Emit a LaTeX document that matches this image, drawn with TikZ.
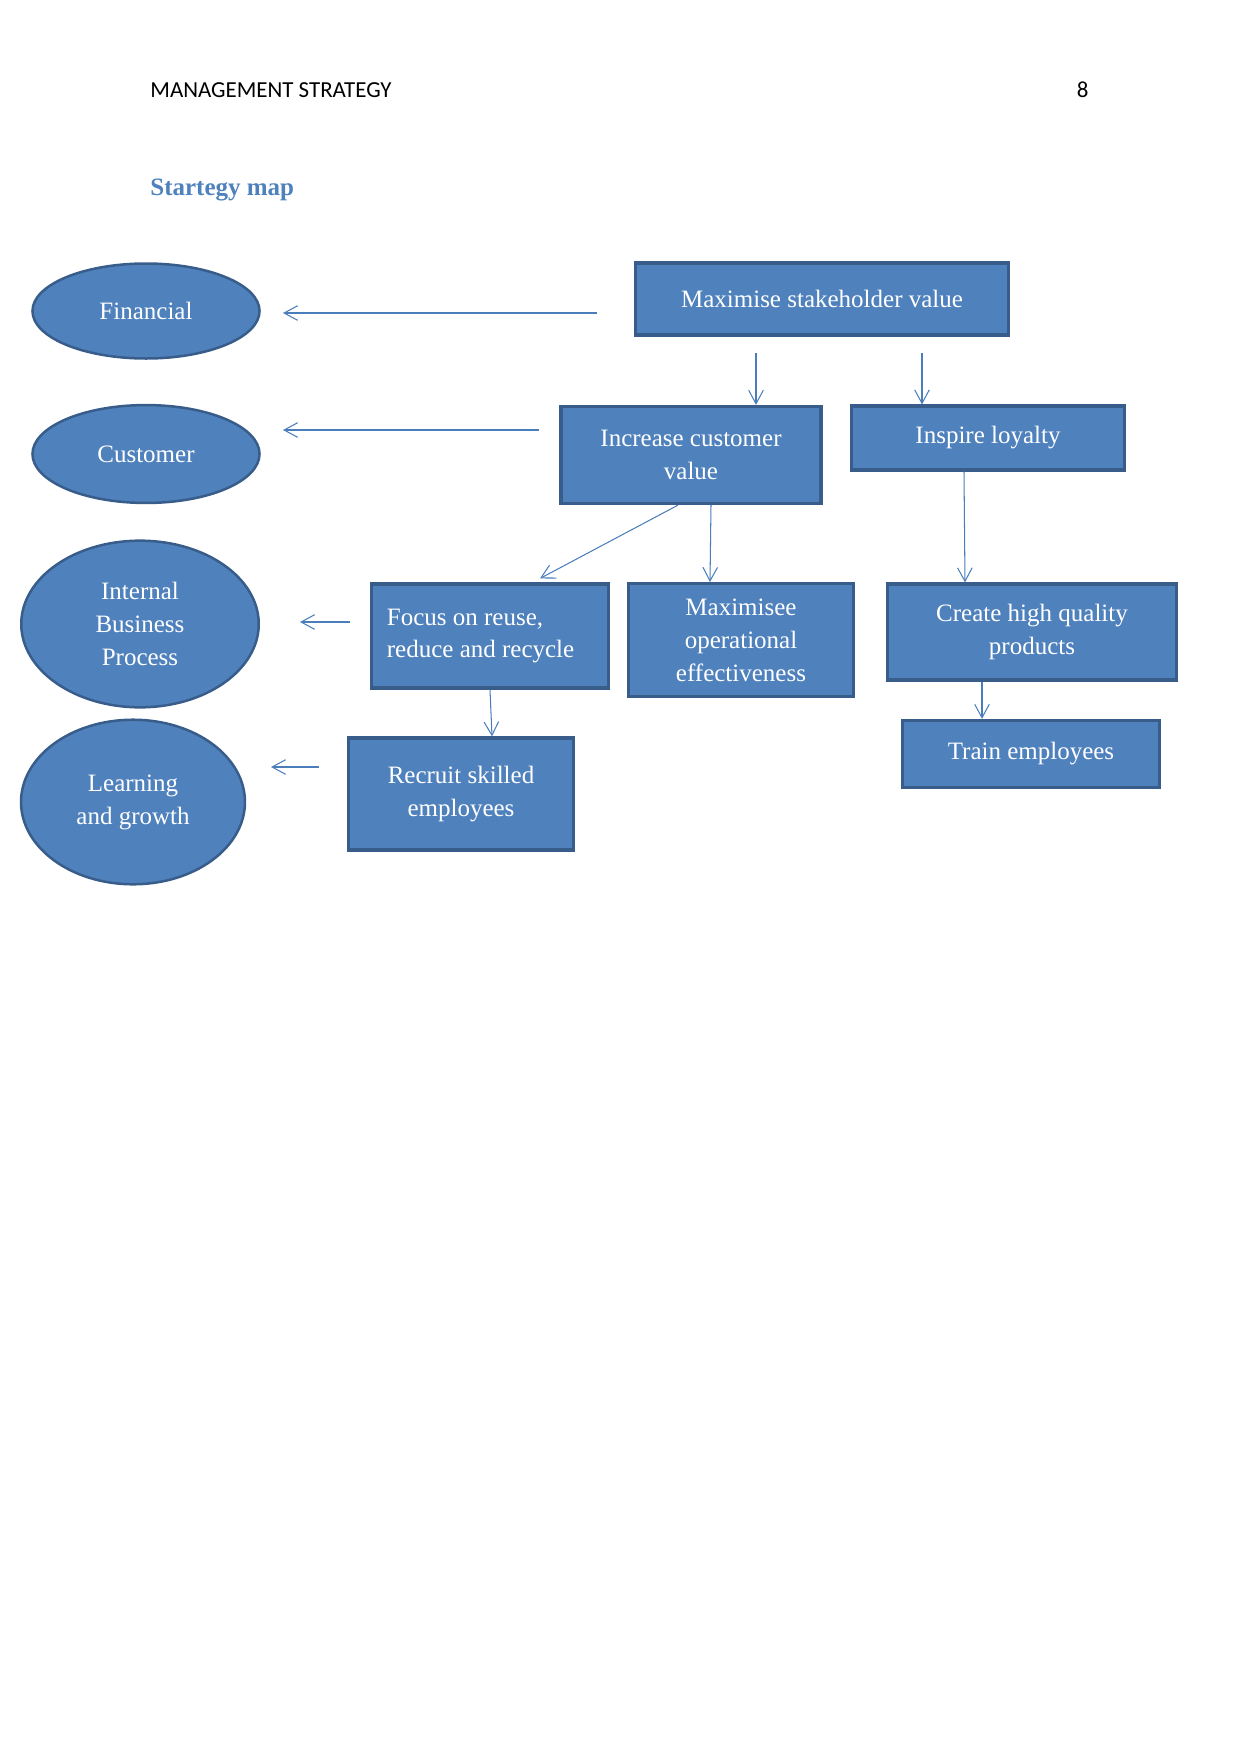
\documentclass[tikz,border=0pt]{standalone}
\usepackage{fontspec}
\setmainfont{Liberation Serif}
\newfontfamily\hdrfont{Carlito}
\usepackage{xcolor}
\definecolor{smblue}{RGB}{79,129,189}
\definecolor{smdark}{RGB}{56,93,138}
\definecolor{smarrow}{RGB}{74,126,187}
\usetikzlibrary{arrows.meta,positioning,shapes.geometric,calc}

\begin{document}
\begin{tikzpicture}[x=0.48pt, y=-0.48pt,
  every node/.style={font=\fontsize{12}{15.8}\selectfont},
  box/.style={draw=smdark, fill=smblue, line width=1.5pt, text=white, align=center},
  persp/.style={ellipse, draw=smdark, fill=smblue, line width=1.2pt, text=white, align=center, inner sep=0pt},
  flow/.style={-{Straight Barb[length=6.5pt, width=7pt]}, smarrow, line width=0.5pt}]
\useasboundingbox (0,0) rectangle (1241,1754);
% Page head
\node[anchor=base west, inner sep=0pt, font=\hdrfont\fontsize{11}{13}\selectfont] (head) at (150,97) {MANAGEMENT STRATEGY};
\node[anchor=base east, inner sep=0pt, font=\hdrfont\fontsize{11}{13}\selectfont] (page) at (1089,97) {8};
\node[anchor=base west, inner sep=0pt, text=smblue, font=\bfseries\fontsize{12}{14}\selectfont] (title) at (150,195) {Startegy map};
% Perspectives
\node[persp, minimum width=109pt, minimum height=45.6pt] (fin) at (146,311) {Financial};
\node[persp, minimum width=109pt, minimum height=47pt] (cus) at (146,454) {Customer};
\node[persp, minimum width=114pt, minimum height=80pt] (ibp) at (140,624) {Internal\\Business\\Process};
\node[persp, minimum width=107.5pt, minimum height=79pt] (lag) at (133,802) {Learning\\and growth};
% Objectives
\node[box, minimum width=179pt, minimum height=34.6pt] (msv) at (822,299) {Maximise stakeholder value};
\node[box, minimum width=124.8pt, minimum height=46.6pt] (icv) at (691,455) {Increase customer\\value};
\node[box, minimum width=131pt, minimum height=30.7pt] (loy) at (988,438) {Inspire loyalty};
\node[box, minimum height=49.9pt, text width=99pt, inner xsep=7.4pt, align=flush left] (frr) at (490,636) {Focus on reuse,\\reduce and recycle};
\node[box, minimum width=108pt, minimum height=54.2pt] (moe) at (741,640) {Maximisee\\operational\\effectiveness};
\node[box, minimum width=138.7pt, minimum height=46.1pt] (chq) at (1032,632) {Create high quality\\products};
\node[box, minimum width=108pt, minimum height=53.8pt] (rse) at (461,794) {Recruit skilled\\employees};
\node[box, minimum width=123.4pt, minimum height=32.2pt] (tre) at (1031,754) {Train employees};
% Arrows to perspectives
\coordinate (fin-t) at (597,313); \coordinate (fin-h) at (283,313);
\coordinate (cus-t) at (539,430); \coordinate (cus-h) at (283,430);
\coordinate (ibp-t) at (350,622); \coordinate (ibp-h) at (300,622);
\coordinate (lag-t) at (319,767); \coordinate (lag-h) at (271,767);
\foreach \a in {fin,cus,ibp,lag} {
  \draw[flow] (\a-t) -- (\a-h);
}
% Arrows between objectives
\coordinate (msv-a) at (756,353);
\coordinate (msv-b) at (922,353);
\draw[flow] (msv-a) -- (msv-a |- icv.north);
\draw[flow] (msv-b) -- (msv-b |- loy.north);
\draw[flow] ($(icv.south)+(-13,0)$) -- ($(frr.north)+(50,-4)$);
\draw[flow] ($(icv.south)+(20,0)$) -- ($(moe.north)+(-31,0)$);
\draw[flow] ($(loy.south)+(-24,0)$) -- ($(chq.north)+(-67,0)$);
\draw[flow] ($(chq.south)+(-50,0)$) -- ($(tre.north)+(-49,0)$);
\draw[flow] (frr.south) -- ($(rse.north)+(31,0)$);
\end{tikzpicture}
\end{document}
